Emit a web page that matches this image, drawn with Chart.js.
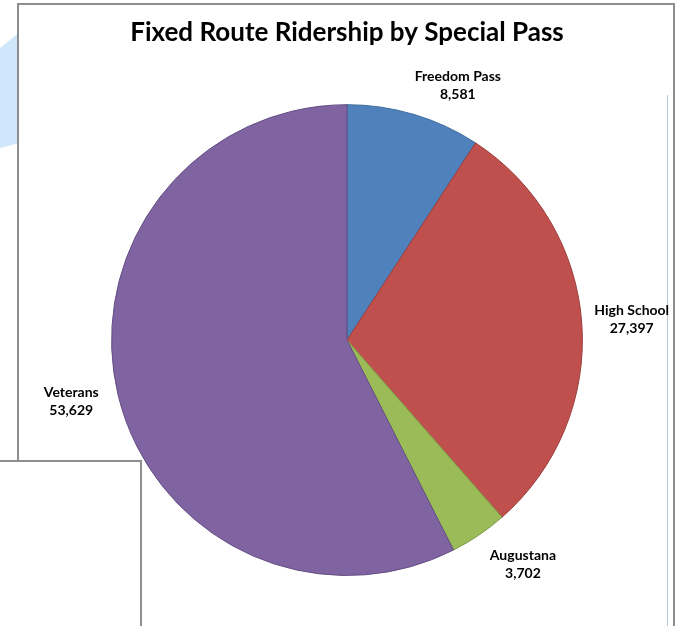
<!DOCTYPE html>
<html>
<head>
<meta charset="utf-8">
<script src="https://cdn.jsdelivr.net/npm/chart.js@4.4.1/dist/chart.umd.min.js"></script>
<style>
  html, body { margin: 0; padding: 0; background: #fff; overflow: hidden; }
  #page { position: relative; width: 677px; height: 626px; }
  .blueShape { position: absolute; left: 0; top: 0; width: 20px; height: 160px; background: #cfe6fb;
    clip-path: polygon(0 48px, 20px 32px, 20px 143px, 0 148px); }
  .frame { position: absolute; left: 17px; top: 3px; width: 654px; height: 700px; border: 2px solid #8e8e8e; background: #fff; }
  .sideLine { position: absolute; left: 667px; top: 95px; width: 1px; height: 600px; background: #b9c7d6; }
  .box { position: absolute; left: -3px; top: 460px; width: 141px; height: 300px; border: 2px solid #8e8e8e; background: #fff; }
  #myChart { position: absolute; left: 0; top: 0; }
</style>
</head>
<body>
<div id="page">
  <div class="blueShape"></div>
  <div class="frame"></div>
  <div class="sideLine"></div>
  <div class="box"></div>
  <canvas id="myChart" width="677" height="626"></canvas>
</div>
<script>
// data
const passNames = ['Freedom Pass', 'High School', 'Augustana', 'Veterans'];
const riders = [8581, 27397, 3702, 53629];
const sliceColors = ['#4f81bd', '#c0504d', '#9bbb59', '#8064a2'];
const edgeColors = ['#3e6a9c', '#9c3d3a', '#7c9945', '#634d83'];

// label nudges (degrees / px) so they sit like the original
const labelNudge = [7, 0, -4, 1];
const labelDist = [42, 50, 50, 47];

//LABELS
const pieLabels = {
    id: 'pieLabels',
    afterDatasetsDraw(chart) {
        const ctx = chart.ctx;
        const meta = chart.getDatasetMeta(0);
        ctx.save();
        ctx.fillStyle = '#000';
        ctx.font = 'bold 14px Lato, "Open Sans", sans-serif';
        ctx.textAlign = 'center';
        ctx.textBaseline = 'middle';
        meta.data.forEach((arc, i) => {
            const p = arc.getProps(['x', 'y', 'startAngle', 'endAngle', 'outerRadius'], true);
            const mid = (p.startAngle + p.endAngle) / 2 + labelNudge[i] * Math.PI / 180;
            const r = p.outerRadius + labelDist[i];
            const x = p.x + Math.cos(mid) * r;
            const y = p.y + Math.sin(mid) * r;
            ctx.fillText(passNames[i], x, y - 9);
            ctx.fillText(riders[i].toLocaleString('en-US'), x, y + 9);
        });
        ctx.restore();
    }
};

const config = {
    type: 'pie',
    data: {
        labels: passNames,
        datasets: [{
            data: riders,
            backgroundColor: sliceColors,
            borderColor: edgeColors,
            borderWidth: 1,
        }]
    },
    options: {
        responsive: false,
        animation: false,
        layout: { padding: { left: 111, right: 94, top: 0, bottom: 50 } },
        plugins: {
            legend: { display: false },
            tooltip: { enabled: false },
            title: {
                display: true,
                text: 'Fixed Route Ridership by Special Pass',
                color: '#000',
                font: { family: 'Lato, "Open Sans", sans-serif', size: 26, weight: 'bold', lineHeight: 1.2 },
                padding: { top: 17, bottom: 56 }
            }
        }
    },
    plugins: [pieLabels]
};

const myChart = new Chart(document.getElementById('myChart'), config);
</script>
</body>
</html>
